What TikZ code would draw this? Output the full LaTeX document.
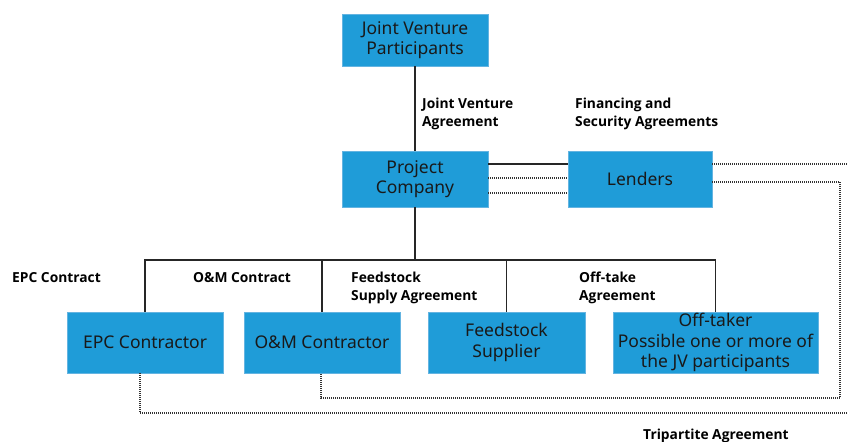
\documentclass[tikz,border=0pt]{standalone}
\usepackage{fontspec}
\setmainfont{Noto Sans}
\newfontfamily\labfont{Open Sans}
\definecolor{boxblue}{RGB}{31,156,216}
\definecolor{boxedge}{RGB}{100,180,225}
\begin{document}
\begin{tikzpicture}[x=1pt,y=-1pt,
  box/.style={draw=boxedge, line width=0.8pt, fill=boxblue, align=center, inner sep=0pt,
    font=\fontsize{17.5}{20.5}\selectfont, text=black!90},
  lab/.style={anchor=north west, align=left, inner sep=0pt, font=\labfont\bfseries\fontsize{13.8}{18}\selectfont},
  conn/.style={line width=1.2pt, draw=black!85},
  dotl/.style={line width=1.3pt, dash pattern=on 1pt off 1pt, draw=black!80}]
\useasboundingbox (0,0) rectangle (847,442);
\node[box, minimum width=146pt, minimum height=52pt] (jvp) at (415,40) {Joint Venture\\Participants};
\node[box, minimum width=146pt, minimum height=56pt] (pc) at (415,179) {Project\\Company};
\node[box, minimum width=144pt, minimum height=56pt] (len) at (640,179) {Lenders};
\node[box, minimum width=156pt, minimum height=61pt] (epc) at (145,342.5) {EPC Contractor};
\node[box, minimum width=156pt, minimum height=61pt] (om) at (322,342.5) {O\&M Contractor};
\node[box, minimum width=157pt, minimum height=61pt] (feed) at (506.5,342.5) {Feedstock\\Supplier};
\node[box, minimum width=205pt, minimum height=61pt] (off) at (715.5,342.5) {Off-taker\\Possible one or more of\\the JV participants};
\coordinate (bus) at (415,260);
\coordinate (r1) at (847,164);
\coordinate (c1) at (840,398);
\coordinate (r3) at (847,413);
% solid connectors
\draw[conn] (jvp) -- (pc);
\draw[conn] (pc.south) -- (bus);
\draw[conn] (epc.north) |- (bus) -| (off.north);
\draw[conn] (om.north) -- (om.north |- bus);
\draw[conn] (feed.north) -- (feed.north |- bus);
\draw[conn] ([yshift=15pt]pc.east) -- ([yshift=15pt]len.west);
% dotted connectors
\draw[dotl] ([yshift=1pt]pc.east) -- ([yshift=1pt]len.west);
\draw[dotl] ([yshift=-14pt]pc.east) -- ([yshift=-14pt]len.west);
\draw[dotl] ([yshift=15pt]len.east) -- (r1);
\draw[dotl] ([yshift=-3pt]len.east) -| (c1) -| ([xshift=-1pt]om.south);
\draw[dotl] ([xshift=-5pt]epc.south) |- (r3);
% labels
\node[lab] (ljv) at (422,98) {Joint Venture\\Agreement};
\node[lab] (lfin) at (575,98) {Financing and\\Security Agreements};
\node[lab] (lepc) at (12,272) {EPC Contract};
\node[lab] (lom) at (193,272) {O\&M Contract};
\node[lab] (lfs) at (351,272) {Feedstock\\Supply Agreement};
\node[lab] (lot) at (579,272) {Off-take\\Agreement};
\node[lab] (ltri) at (643,429) {Tripartite Agreement};
\end{tikzpicture}
\end{document}
